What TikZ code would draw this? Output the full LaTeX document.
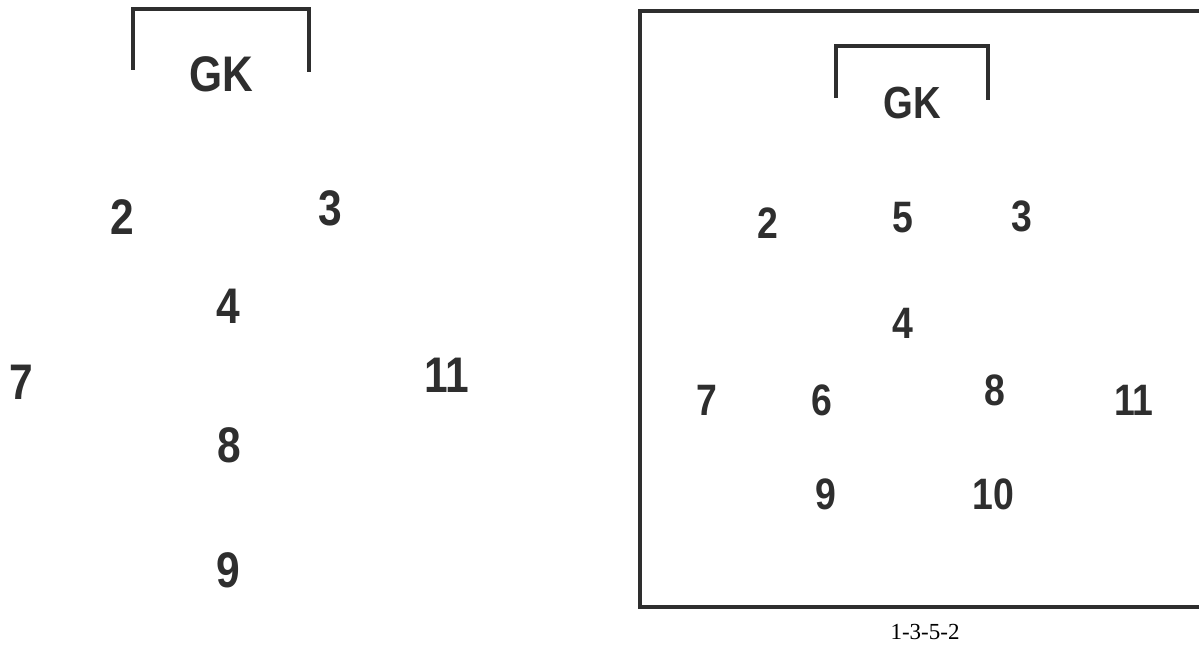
\documentclass[tikz,border=0pt]{standalone}
\usepackage{fontspec}
\setmainfont{Liberation Sans}
\newfontfamily\condfont[FakeStretch=0.85]{Liberation Sans}
\newfontfamily\capfont{Liberation Serif}
\definecolor{ink}{HTML}{2E2E2E}
\begin{document}
\begin{tikzpicture}[x=1pt,y=-1pt,
  lnum/.style={font=\condfont\fontsize{50}{50}\selectfont\bfseries, text=ink, inner sep=0pt},
  rnum/.style={font=\condfont\fontsize{44}{44}\selectfont\bfseries, text=ink, inner sep=0pt},
  gk/.style={font=\condfont\fontsize{50}{50}\selectfont\bfseries, text=ink, inner sep=0pt},
  rgk/.style={font=\condfont\fontsize{45}{45}\selectfont\bfseries, text=ink, inner sep=0pt},
  goal/.style={draw=ink, line width=3.5pt},
  pitch/.style={draw=ink, line width=4pt}]
\useasboundingbox[fill=white] (0,0) rectangle (1199,647);
% left formation
\draw[goal] (133,70) -- (133,9) -- (309,9) -- (309,72);
\node[gk]   (lgk) at (221,74) {GK};
\node[lnum] (l2)  at (122,217) {2};
\node[lnum] (l3)  at (330,208) {3};
\node[lnum] (l4)  at (228,306) {4};
\node[lnum] (l7)  at (21,382) {7};
\node[lnum] (l11) at (447,375) {11};
\node[lnum] (l8)  at (229,445) {8};
\node[lnum] (l9)  at (228,570) {9};
% right formation
\draw[pitch] (1201,11) -- (640,11) -- (640,607) -- (1201,607);
\draw[goal] (836,98) -- (836,46) -- (988,46) -- (988,100);
\node[rgk]  (rgk) at (912,103) {GK};
\node[rnum] (r2)  at (768,223) {2};
\node[rnum] (r5)  at (903,218) {5};
\node[rnum] (r3)  at (1022,216) {3};
\node[rnum] (r4)  at (903,323) {4};
\node[rnum] (r7)  at (707,400) {7};
\node[rnum] (r6)  at (822,400) {6};
\node[rnum] (r8)  at (995,390) {8};
\node[rnum] (r11) at (1134,400) {11};
\node[rnum] (r9)  at (826,494) {9};
\node[rnum] (r10) at (993,494) {10};
\node[font=\capfont\fontsize{23}{23}\selectfont, text=black, inner sep=0pt] (cap) at (925,632) {1-3-5-2};
\end{tikzpicture}
\end{document}
